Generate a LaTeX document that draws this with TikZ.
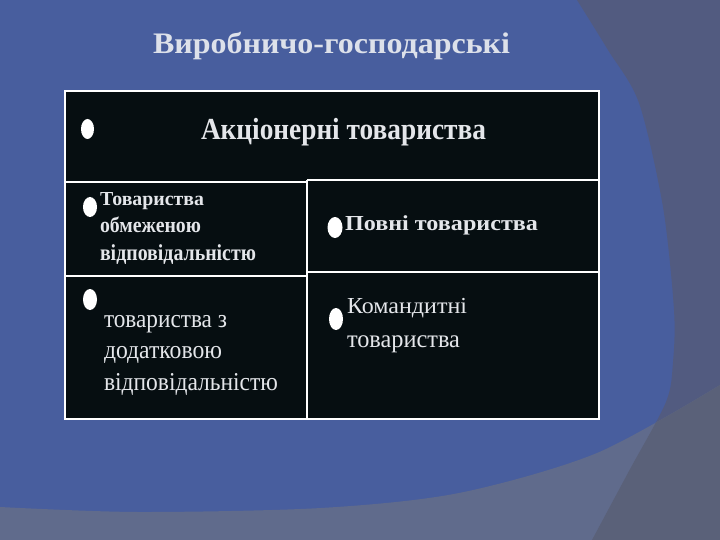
\documentclass[tikz,border=0pt]{standalone}
\usepackage{fontspec}
\setmainfont{Liberation Serif}
\usepackage{graphicx}
\usetikzlibrary{shapes.geometric}
\definecolor{bgblue}{HTML}{485E9E}
\definecolor{rightgray}{HTML}{525B80}
\definecolor{bottomgray}{HTML}{606B8C}
\definecolor{overlapc}{HTML}{5A6179}
\definecolor{cellc}{HTML}{060E11}
\definecolor{textc}{HTML}{E4E6EA}
\definecolor{titlec}{HTML}{DDE1EA}
\newcommand{\capfit}[3]{\resizebox{#1}{#2}{\rule{0pt}{\fontcharht\font`\H}\smash{#3}}}
\newcommand{\xfit}[3]{\resizebox{#1}{#2}{\rule{0pt}{1ex}\smash{#3}}}
\begin{document}
\begin{tikzpicture}[x=1pt,y=-1pt,
  txt/.style={anchor=base west, inner sep=0pt, outer sep=0pt, text=textc, font=\fontsize{20}{24}\selectfont},
  btxt/.style={txt, font=\fontsize{20}{24}\selectfont\bfseries},
  bul/.style={fill=white, draw=none, ellipse, inner sep=0pt},
  grid/.style={draw=white, line width=1.2pt}]
\useasboundingbox (0,0) rectangle (720,540);
\fill[bgblue] (0,0) rectangle (720,540);
\def\rpath{plot[smooth] coordinates {(577,0) (608,50) (639,103) (663,207) (674,310) (673,362) (666,402) (629,471) (592,540)} -- (720,540) -- (720,0) -- cycle}
\def\bpath{plot[smooth] coordinates {(0,507) (138,512) (321,508) (459,493) (597,453) (720,385)} -- (720,540) -- (0,540) -- cycle}
\fill[rightgray] \rpath;
\fill[bottomgray] \bpath;
\begin{scope}
  \clip \rpath;
  \fill[overlapc] \bpath;
\end{scope}
% table
\fill[cellc] (65,91) rectangle (599,419);
\draw[grid] (65,91) rectangle (599,419);
\draw[grid] (65,182) -- (307,182);
\draw[grid] (307,180) -- (599,180);
\draw[grid] (307,180) -- (307,419);
\draw[grid] (65,276) -- (307,276);
\draw[grid] (307,272) -- (599,272);
% title
\node[btxt, text=titlec] (title) at (153,53.5) {\capfit{357pt}{19.5pt}{Виробничо-господарські}};
% bullets
\node[bul, minimum width=13pt, minimum height=20pt] (b1) at (87.5,129) {};
\node[bul, minimum width=14pt, minimum height=20pt] (b2) at (90,207) {};
\node[bul, minimum width=14pt, minimum height=21pt] (b3) at (90,299.5) {};
\node[bul, minimum width=15pt, minimum height=21pt] (b4) at (335,227.5) {};
\node[bul, minimum width=14pt, minimum height=22pt] (b5) at (336,319) {};
% texts
\node[btxt] (akt) at (201,140) {\capfit{285pt}{20pt}{Акціонерні товариства}};
\node[btxt] (l1) at (100,206) {\capfit{104pt}{13pt}{Товариства}};
\node[btxt] (l2) at (100,233) {\xfit{101pt}{10pt}{обмеженою}};
\node[btxt] (l3) at (100,260) {\xfit{156pt}{10.5pt}{відповідальністю}};
\node[btxt] (r1) at (345,230.5) {\capfit{193pt}{14pt}{Повні товариства}};
\node[txt] (m1) at (104,327) {\xfit{123pt}{11.8pt}{товариства з}};
\node[txt] (m2) at (104,358.5) {\xfit{118pt}{11.8pt}{додатковою}};
\node[txt] (m3) at (104,390) {\xfit{174pt}{11.8pt}{відповідальністю}};
\node[txt] (k1) at (347,313.5) {\capfit{120pt}{15pt}{Командитні}};
\node[txt] (k2) at (347,347.5) {\xfit{113pt}{11.5pt}{товариства}};
\end{tikzpicture}
\end{document}
